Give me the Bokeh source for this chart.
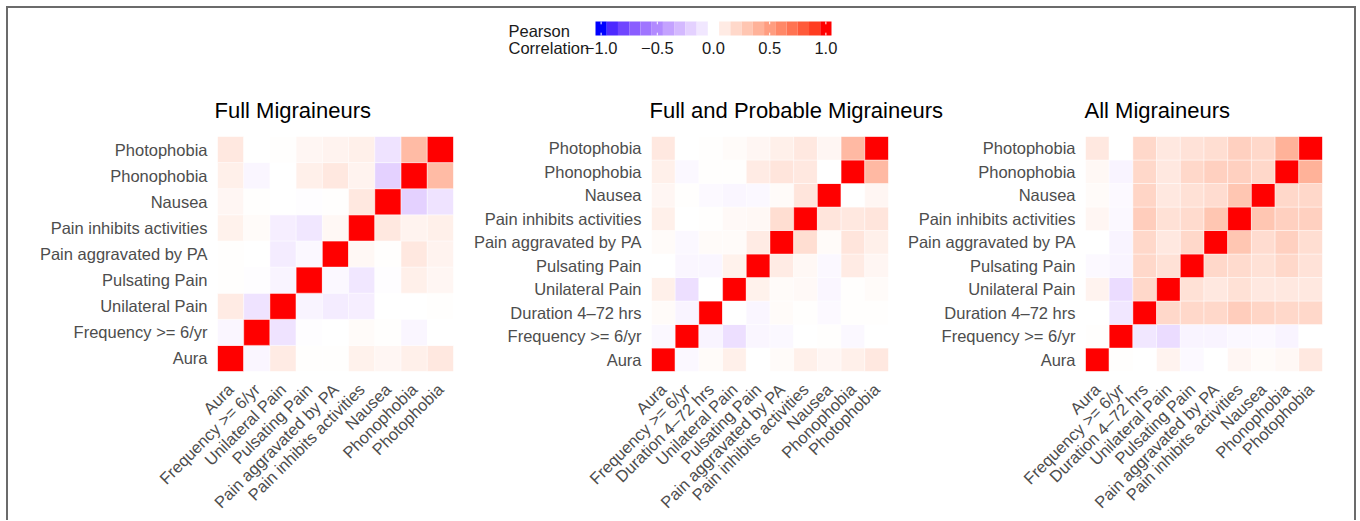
import numpy as np
from bokeh.plotting import figure
from bokeh.models import FactorRange, ColumnDataSource, LinearColorMapper, Range1d
from bokeh.layouts import column, row
from bokeh.embed import file_html
from bokeh.resources import INLINE

# ---------------- data ----------------
VARS_FULL = ["Aura", "Frequency >= 6/yr", "Unilateral Pain", "Pulsating Pain",
             "Pain aggravated by PA", "Pain inhibits activities", "Nausea",
             "Phonophobia", "Photophobia"]
VARS_ALL = ["Aura", "Frequency >= 6/yr", "Duration 4\u201372 hrs", "Unilateral Pain",
            "Pulsating Pain", "Pain aggravated by PA", "Pain inhibits activities",
            "Nausea", "Phonophobia", "Photophobia"]

# rows/cols in the order of the variable lists (row 0 = Aura)
CORR_FULL = [
    [1.00, -0.04, 0.10, 0.01, 0.01, 0.07, 0.05, 0.08, 0.12],
    [-0.04, 1.00, -0.12, -0.01, 0.00, 0.02, 0.01, -0.04, 0.00],
    [0.10, -0.12, 1.00, -0.05, -0.08, -0.07, 0.00, 0.00, 0.01],
    [0.01, -0.01, -0.05, 1.00, -0.03, -0.10, -0.01, 0.08, 0.05],
    [0.01, 0.00, -0.08, -0.03, 1.00, 0.04, 0.01, 0.12, 0.06],
    [0.07, 0.02, -0.07, -0.10, 0.04, 1.00, 0.12, 0.06, 0.08],
    [0.05, 0.01, 0.00, -0.01, 0.01, 0.12, 1.00, -0.20, -0.12],
    [0.08, -0.04, 0.00, 0.08, 0.12, 0.06, -0.20, 1.00, 0.35],
    [0.12, 0.00, 0.01, 0.05, 0.06, 0.08, -0.12, 0.35, 1.00],
]
CORR_PROB = [
    [1.00, -0.03, 0.02, 0.08, 0.00, 0.02, 0.08, 0.05, 0.08, 0.12],
    [-0.03, 1.00, -0.05, -0.13, -0.04, -0.03, 0.00, 0.01, -0.03, 0.00],
    [0.02, -0.05, 1.00, 0.00, -0.04, 0.02, 0.01, -0.02, 0.01, 0.01],
    [0.08, -0.13, 0.00, 1.00, 0.07, 0.02, 0.03, -0.04, 0.01, 0.02],
    [0.00, -0.04, -0.04, 0.07, 1.00, 0.10, 0.04, -0.03, 0.10, 0.05],
    [0.02, -0.03, 0.02, 0.02, 0.10, 1.00, 0.17, 0.02, 0.13, 0.08],
    [0.08, 0.00, 0.01, 0.03, 0.04, 0.17, 1.00, 0.13, 0.12, 0.13],
    [0.05, 0.01, -0.02, -0.04, -0.03, 0.02, 0.13, 1.00, 0.00, 0.05],
    [0.08, -0.03, 0.01, 0.01, 0.10, 0.13, 0.12, 0.00, 1.00, 0.36],
    [0.12, 0.00, 0.01, 0.02, 0.05, 0.08, 0.12, 0.05, 0.36, 1.00],
]
CORR_ALL = [
    [1.00, 0.01, 0.00, 0.06, -0.02, 0.00, 0.05, 0.02, 0.04, 0.12],
    [0.01, 1.00, -0.10, -0.15, -0.05, -0.05, -0.03, -0.02, -0.05, 0.00],
    [0.00, -0.10, 1.00, 0.20, 0.20, 0.20, 0.26, 0.22, 0.20, 0.20],
    [0.06, -0.15, 0.20, 1.00, 0.16, 0.12, 0.16, 0.12, 0.12, 0.12],
    [-0.02, -0.05, 0.20, 0.16, 1.00, 0.20, 0.19, 0.16, 0.20, 0.15],
    [0.00, -0.05, 0.20, 0.12, 0.20, 1.00, 0.30, 0.18, 0.24, 0.17],
    [0.05, -0.03, 0.26, 0.16, 0.19, 0.30, 1.00, 0.30, 0.24, 0.24],
    [0.02, -0.02, 0.22, 0.12, 0.16, 0.18, 0.30, 1.00, 0.20, 0.20],
    [0.04, -0.05, 0.20, 0.12, 0.20, 0.24, 0.24, 0.20, 1.00, 0.40],
    [0.12, 0.00, 0.20, 0.12, 0.15, 0.17, 0.24, 0.20, 0.40, 1.00],
]
TITLES = ["Full Migraineurs", "Full and Probable Migraineurs", "All Migraineurs"]

LEGEND_BINS = [-1.0, -0.9, -0.8, -0.7, -0.6, -0.5, -0.4, -0.3, -0.2, -0.1, 0.0,
               0.1, 0.2, 0.3, 0.4, 0.5, 0.6, 0.7, 0.8, 0.9, 1.0]
LEGEND_TICKS = [-1.0, -0.5, 0.0, 0.5, 1.0]
LEGEND_LABELS = ["\u22121.0", "\u22120.5", "0.0", "0.5", "1.0"]
LEGEND_TITLE = ["Pearson", "Correlation"]

# ---------------- colour scale (Lab interpolation blue-white-red) ----------------
M = np.array([[0.4124564, 0.3575761, 0.1804375],
              [0.2126729, 0.7151522, 0.0721750],
              [0.0193339, 0.1191920, 0.9503041]])
WP = np.array([0.95047, 1.0, 1.08883])


def to_lab(rgb):
    c = np.array(rgb, dtype=float) / 255.0
    c = np.where(c <= 0.04045, c / 12.92, ((c + 0.055) / 1.055) ** 2.4)
    t = (M @ c) / WP
    d = 6 / 29
    f = np.where(t > d ** 3, np.cbrt(t), t / (3 * d * d) + 4 / 29)
    return np.array([116 * f[1] - 16, 500 * (f[0] - f[1]), 200 * (f[1] - f[2])])


def to_hex(lab):
    L, a, b = lab
    fy = (L + 16) / 116
    fx = fy + a / 500
    fz = fy - b / 200
    d = 6 / 29
    f = np.array([fx, fy, fz])
    xyz = np.where(f > d, f ** 3, 3 * d * d * (f - 4 / 29)) * WP
    c = np.linalg.inv(M) @ xyz
    c = np.clip(c, 0, 1)
    c = np.where(c <= 0.0031308, 12.92 * c, 1.055 * c ** (1 / 2.4) - 0.055)
    c = np.clip(np.round(c * 255), 0, 255).astype(int)
    return "#%02x%02x%02x" % tuple(c)


LAB_BLUE, LAB_WHITE, LAB_RED = to_lab((0, 0, 255)), to_lab((255, 255, 255)), to_lab((255, 0, 0))
N = 255
palette = []
for k in range(N):
    t = -1 + 2 * k / (N - 1)
    lab = LAB_WHITE + ((LAB_BLUE - LAB_WHITE) * (-t) if t < 0 else (LAB_RED - LAB_WHITE) * t)
    palette.append(to_hex(lab))
mapper = LinearColorMapper(palette=palette, low=-1, high=1)

FONT = "Liberation Sans"
GRAY = "#4d4d4d"
INK = "#1a1a1a"

# ---------------- header: colour legend + panel titles ----------------
HW, HH = 1346, 128          # header canvas size (px)
BAR_L, BAR_W = 587, 236     # colour bar left edge / width (px in header canvas)
BAR_T, BAR_H = 13, 14       # colour bar top edge / height
PPU = BAR_W / 2.1           # px per correlation unit along the bar
XS = -1.05 - BAR_L / PPU    # data x at canvas left


def hx(px):   # header canvas px -> data x
    return XS + px / PPU


def hy(py):   # header canvas px (from top) -> data y (bar spans 0..1)
    return (BAR_T + BAR_H - py) / BAR_H


hdr = figure(width=HW, height=HH, x_range=Range1d(hx(0), hx(HW)), y_range=Range1d(hy(HH), hy(0)),
             output_backend="svg", toolbar_location=None, x_axis_location=None,
             y_axis_location=None, min_border=0, outline_line_color=None)
hdr.grid.visible = False
hdr.rect(x="v", y=0.5, width=0.1, height=1, source=ColumnDataSource(dict(v=LEGEND_BINS)),
         fill_color={"field": "v", "transform": mapper}, line_color=None)
notch = [t for t in LEGEND_TICKS if t != 0.0]
hdr.segment(x0=notch, x1=notch, y0=[0] * len(notch), y1=[0.2] * len(notch), line_color="white", line_width=1)
hdr.segment(x0=notch, x1=notch, y0=[0.8] * len(notch), y1=[1] * len(notch), line_color="white", line_width=1)
hdr.text(x=LEGEND_TICKS, y=[hy(39)] * len(LEGEND_TICKS), text=LEGEND_LABELS,
         text_font={"value": FONT}, text_font_size={"value": "16.5px"}, text_color=INK,
         text_align="center", text_baseline="middle")
hdr.text(x=[hx(500)] * 2, y=[hy(22), hy(39)], text=LEGEND_TITLE,
         text_font={"value": FONT}, text_font_size={"value": "16.5px"}, text_color=INK,
         text_align="left", text_baseline="middle")
hdr.text(x=[hx(206), hx(641), hx(1076)], y=[hy(102)] * 3, text=TITLES,
         text_font={"value": FONT}, text_font_size={"value": "22px"}, text_color="black",
         text_align="left", text_baseline="middle")


# ---------------- heatmaps ----------------
def heatmap(vars_, corr, width, left, right):
    xs, ys, vs = [], [], []
    for i, rv in enumerate(vars_):
        for j, cv in enumerate(vars_):
            xs.append(cv)
            ys.append(rv)
            vs.append(corr[i][j])
    p = figure(width=width, height=384, x_range=FactorRange(factors=vars_),
               y_range=FactorRange(factors=vars_), output_backend="svg",
               toolbar_location=None, min_border_left=left, min_border_right=right,
               min_border_top=0, min_border_bottom=147, outline_line_color=None)
    p.rect(x="x", y="y", width=1, height=1, source=ColumnDataSource(dict(x=xs, y=ys, v=vs)),
           fill_color={"field": "v", "transform": mapper},
           line_color="white", line_alpha=0.6, line_width=0.7)
    p.grid.visible = False
    for a in (p.xaxis[0], p.yaxis[0]):
        a.axis_line_color = None
        a.major_tick_line_color = None
        a.minor_tick_line_color = None
        a.major_tick_out = 0
        a.major_tick_in = 0
        a.major_label_text_font = FONT
        a.major_label_text_font_size = "16.5px"
        a.major_label_text_color = GRAY
        a.major_label_standoff = 10
    p.xaxis[0].major_label_orientation = np.pi / 4
    p.xaxis[0].major_label_standoff = 15
    return p


f1 = heatmap(VARS_FULL, CORR_FULL, 454, 209, 9)
f2 = heatmap(VARS_ALL, CORR_PROB, 438, 189, 12)
f3 = heatmap(VARS_ALL, CORR_ALL, 454, 185, 32)

BORDER = "2px solid #6b6b6b"
layout = column(hdr, row(f1, f2, f3),
                styles={"margin": "6px 0 0 6px", "border-top": BORDER,
                        "border-left": BORDER, "border-right": BORDER})

open("out.html", "w").write(file_html(layout, INLINE))
